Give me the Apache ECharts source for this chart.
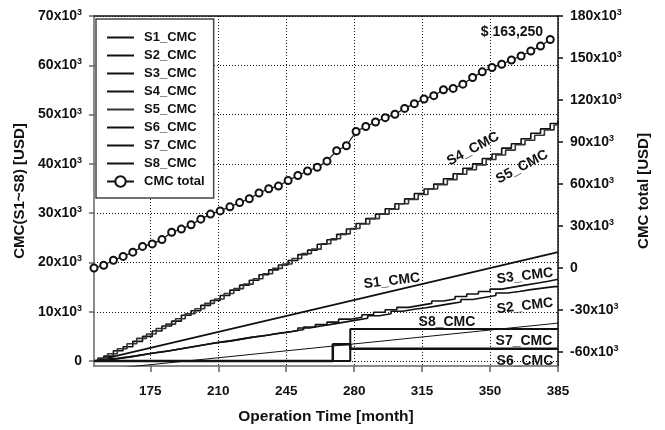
<!DOCTYPE html>
<html>
<head>
<meta charset="utf-8">
<script src="https://cdn.jsdelivr.net/npm/echarts@6/dist/echarts.min.js"></script>
<style>
html, body { margin: 0; padding: 0; background: #fff; }
#chart { width: 665px; height: 430px; }
</style>
</head>
<body>
<div id="chart"></div>
<script>
// operation months & values (USD)
var xTicks = [175, 210, 245, 280, 315, 350, 385];
var leftTicks = [0, 10000, 20000, 30000, 40000, 50000, 60000, 70000];
var rightTicks = [-60000, -30000, 0, 30000, 60000, 90000, 120000, 150000, 180000];

var totalMonths = [146,151,156,161,166,171,176,181,186,191,196,201,206,211,216,221,226,231,236,241,246,251,256,261,266,271,276,281,286,291,296,301,306,311,316,321,326,331,336,341,346,351,356,361,366,371,376,381];
var totalValues = [0,1900,5500,8300,11300,15400,17200,20300,25500,27800,30900,34900,38500,40800,43700,46700,49500,53600,56600,58500,62500,66100,69300,72000,76300,83800,87300,97500,101100,104300,107400,109800,114000,117400,120700,123100,127300,128300,131300,136100,140100,143200,145500,148600,151400,155000,158500,163250];

var s1Months = [146, 385];
var s1Values = [0, 22100];

var s2Months = [146,149,155,161,167,173,179,185,191,197,203,209,215,221,227,233,239,245,251,257,263,269,275,281,287,293,299,305,311,317,323,329,335,341,347,353,359,365,371,377,383,385];
var s2Values = [0,300,700,1000,1400,1800,2100,2500,2900,3300,3700,4000,4400,4800,5100,5500,5800,6200,6700,7100,7500,7900,8300,8700,9200,9600,10100,10500,10800,11200,11600,12000,12500,12900,13300,13800,14100,14500,14800,15100,15100,15100];

var s3Months = [146,152,158,164,170,176,182,188,194,200,206,212,218,224,230,236,242,248,254,260,266,272,278,284,290,296,302,308,314,320,326,332,338,344,350,356,362,368,374,380,385];
var s3Values = [0,500,800,1200,1600,1900,2300,2700,3100,3500,3900,4200,4600,5000,5300,5700,6000,6400,6900,7400,7900,8500,8900,9400,9900,10400,10900,11300,11700,12200,12600,13100,13600,14100,14600,15000,15400,15800,16200,16600,16600];

var s4Months = [146,151,156,161,166,171,176,181,186,191,196,201,206,211,216,221,226,231,236,241,246,251,256,261,266,271,276,281,286,291,296,301,306,311,316,321,326,331,336,341,346,351,356,361,366,371,376,381,385];
var s4Values = [0,1000,2100,2900,4000,5000,6100,7100,8100,9300,10200,11300,12300,13300,14400,15400,16400,17500,18500,19500,20400,21600,22500,23700,24600,25700,26800,27900,28900,29800,30900,31900,32900,34000,34900,35900,37000,38000,39100,40000,41100,42000,43200,44100,45100,46200,47100,48200,48800];

var s5Months = [146,148,153,158,163,168,173,178,183,188,193,198,203,208,213,218,223,228,233,238,243,248,253,258,263,268,273,278,283,288,293,298,303,308,313,318,323,328,333,338,343,348,353,358,363,368,373,378,383,385];
var s5Values = [0,600,1500,2500,3500,4600,5500,6600,7500,8600,9600,10600,11700,12600,13700,14700,15600,16700,17700,18800,19700,20800,21800,22700,23800,24800,25800,26900,27800,28900,29800,30800,31900,32800,33800,34900,35800,36800,37900,38800,39800,40900,41800,42800,43900,44800,45800,46900,47900,47900];

var s6Months = [146, 269, 269, 278, 278, 385];
var s6Values = [0, 0, 3400, 3400, 2500, 2500];

var s7Months = [146, 278, 278, 385];
var s7Values = [0, 0, 6500, 6500];

var s8Months = [146, 385];
var s8Values = [-1900, 7700];

function pairs(xs, ys) {
    var out = [];
    for (var i = 0; i < xs.length; i++) out.push([xs[i], ys[i]]);
    return out;
}

var FONT = 'Liberation Sans, Arial, sans-serif';
var INK = '#111';
var LINE_ICON = 'path://M0,0H27V2H0Z';

function tickFmt(v) {
    if (v === 0) return '{b|0}';
    return '{b|' + (v / 1000) + 'x10}{s|3}';
}
var tickRich = {
    b: { fontSize: 14, fontWeight: 'bold', fontFamily: FONT, color: INK },
    s: { fontSize: 9, fontWeight: 'bold', fontFamily: FONT, color: INK, verticalAlign: 'top', padding: [0, 0, 7, 0] }
};

function lineSeries(name, data, width, step, color) {
    return {
        name: name,
        type: 'line',
        data: data,
        step: step || false,
        symbol: 'none',
        showSymbol: false,
        lineStyle: { color: color || INK, width: width },
        itemStyle: { color: color || INK },
        z: 3
    };
}

var myChart = echarts.init(document.getElementById('chart'));

var option = {
    animation: false,
    backgroundColor: '#fff',
    textStyle: { fontFamily: FONT },
    grid: { left: 94, right: 107, top: 16, bottom: 61 },
    legend: {
        orient: 'vertical',
        left: 96,
        top: 19,
        padding: [12, 9, 10, 10],
        itemWidth: 27,
        itemHeight: 13,
        itemGap: 5,
        backgroundColor: '#fff',
        borderColor: '#444',
        borderWidth: 1.5,
        borderRadius: 0,
        textStyle: { fontSize: 13, fontWeight: 'bold', fontFamily: FONT, color: INK, padding: [0, 0, 0, 5] },
        data: [
            { name: 'S1_CMC', icon: LINE_ICON },
            { name: 'S2_CMC', icon: LINE_ICON },
            { name: 'S3_CMC', icon: LINE_ICON },
            { name: 'S4_CMC', icon: LINE_ICON },
            { name: 'S5_CMC', icon: LINE_ICON },
            { name: 'S6_CMC', icon: LINE_ICON },
            { name: 'S7_CMC', icon: LINE_ICON },
            { name: 'S8_CMC', icon: LINE_ICON },
            { name: 'CMC total' }
        ]
    },
    xAxis: [{
        type: 'value',
        min: 146,
        max: 385,
        name: 'Operation Time [month]',
        nameLocation: 'middle',
        nameGap: 43,
        nameTextStyle: { fontSize: 15.5, fontWeight: 'bold', fontFamily: FONT, color: INK },
        axisLine: { show: true, onZero: false, lineStyle: { color: '#666', width: 1.5 } },
        axisTick: { show: true, customValues: xTicks, length: 6, lineStyle: { color: '#666', width: 1.5 } },
        axisLabel: { customValues: xTicks, margin: 18, fontSize: 13.5, fontWeight: 'bold', fontFamily: FONT, color: INK },
        splitLine: { show: true, lineStyle: { color: INK, width: 1, type: [1, 2] } }
    }, {
        type: 'value',
        position: 'top',
        min: 146,
        max: 385,
        axisLine: { show: true, onZero: false, lineStyle: { color: INK, width: 1.5 } },
        axisTick: { show: false },
        axisLabel: { show: false },
        splitLine: { show: false }
    }],
    yAxis: [{
        type: 'value',
        min: -1000,
        max: 70000,
        name: 'CMC(S1~S8) [USD]',
        nameLocation: 'middle',
        nameRotate: 90,
        nameGap: 66,
        nameTextStyle: { fontSize: 15, fontWeight: 'bold', fontFamily: FONT, color: INK },
        axisLine: { show: true, onZero: false, lineStyle: { color: '#666', width: 1.5 } },
        axisTick: { show: true, customValues: leftTicks, length: 5, lineStyle: { color: '#666', width: 1.5 } },
        axisLabel: { customValues: leftTicks, margin: 12, formatter: tickFmt, rich: tickRich },
        splitLine: { show: true, lineStyle: { color: INK, width: 1, type: [1, 2] } }
    }, {
        type: 'value',
        min: -70000,
        max: 180000,
        position: 'right',
        name: 'CMC total [USD]',
        nameLocation: 'middle',
        nameRotate: 90,
        nameGap: 78,
        nameTextStyle: { fontSize: 15, fontWeight: 'bold', fontFamily: FONT, color: INK },
        axisLine: { show: true, onZero: false, lineStyle: { color: INK, width: 1.5 } },
        axisTick: { show: true, customValues: rightTicks, length: 5, lineStyle: { color: INK, width: 1.5 } },
        axisLabel: { customValues: rightTicks, margin: 12, formatter: tickFmt, rich: tickRich },
        splitLine: { show: false }
    }],
    series: [
        lineSeries('S1_CMC', pairs(s1Months, s1Values), 1.8),
        lineSeries('S2_CMC', pairs(s2Months, s2Values), 1.6, 'end'),
        lineSeries('S3_CMC', pairs(s3Months, s3Values), 1.6, 'end'),
        lineSeries('S4_CMC', pairs(s4Months, s4Values), 1.6, 'end'),
        lineSeries('S5_CMC', pairs(s5Months, s5Values), 1.6, 'end', '#333'),
        lineSeries('S6_CMC', pairs(s6Months, s6Values), 2.5),
        lineSeries('S7_CMC', pairs(s7Months, s7Values), 2),
        lineSeries('S8_CMC', pairs(s8Months, s8Values), 1),
        {
            name: 'CMC total',
            type: 'line',
            yAxisIndex: 1,
            data: pairs(totalMonths, totalValues),
            symbol: 'emptyCircle',
            symbolSize: 7,
            lineStyle: { color: INK, width: 1.2 },
            itemStyle: { color: INK, borderColor: INK, borderWidth: 3 },
            z: 4
        }
    ],
    // curve annotations
    graphic: [
        { type: 'text', x: 512, y: 32, style: { text: '$ 163,250', font: 'bold 14px ' + FONT, fill: INK, align: 'center', verticalAlign: 'middle' } },
        { type: 'text', x: 473, y: 149, rotation: 0.49, style: { text: 'S4_CMC', font: 'bold 14px ' + FONT, fill: INK, align: 'center', verticalAlign: 'middle' } },
        { type: 'text', x: 522, y: 167, rotation: 0.49, style: { text: 'S5_CMC', font: 'bold 14px ' + FONT, fill: INK, align: 'center', verticalAlign: 'middle' } },
        { type: 'text', x: 392, y: 281, rotation: 0.12, style: { text: 'S1_CMC', font: 'bold 14px ' + FONT, fill: INK, align: 'center', verticalAlign: 'middle' } },
        { type: 'text', x: 525, y: 276, rotation: 0.12, style: { text: 'S3_CMC', font: 'bold 14px ' + FONT, fill: INK, align: 'center', verticalAlign: 'middle' } },
        { type: 'text', x: 525, y: 306, rotation: 0.12, style: { text: 'S2_CMC', font: 'bold 14px ' + FONT, fill: INK, align: 'center', verticalAlign: 'middle' } },
        { type: 'text', x: 447, y: 322, style: { text: 'S8_CMC', font: 'bold 14px ' + FONT, fill: INK, align: 'center', verticalAlign: 'middle' } },
        { type: 'text', x: 524, y: 341, style: { text: 'S7_CMC', font: 'bold 14px ' + FONT, fill: INK, align: 'center', verticalAlign: 'middle' } },
        { type: 'text', x: 525, y: 361, style: { text: 'S6_CMC', font: 'bold 14px ' + FONT, fill: INK, align: 'center', verticalAlign: 'middle' } }
    ]
};

myChart.setOption(option);
</script>
</body>
</html>
